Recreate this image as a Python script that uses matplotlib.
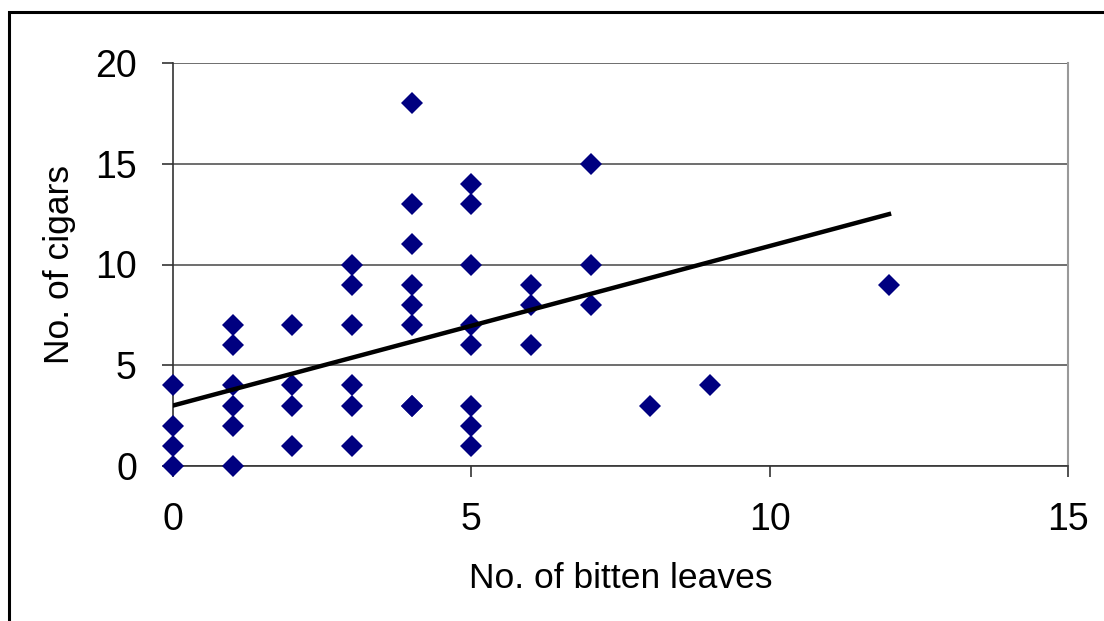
import matplotlib.pyplot as plt
from matplotlib.patches import Rectangle

plt.rcParams['font.family'] = ['Liberation Sans', 'DejaVu Sans']

# bitten leaves vs cigars
leaves = [0, 0, 0, 0,
          1, 1, 1, 1, 1, 1,
          2, 2, 2, 2,
          3, 3, 3, 3, 3, 3,
          4, 4, 4, 4, 4, 4, 4, 4,
          5, 5, 5, 5, 5, 5, 5, 5,
          6, 6, 6,
          7, 7, 7,
          8, 9, 12]
cigars = [0, 1, 2, 4,
          0, 2, 3, 4, 6, 7,
          1, 3, 4, 7,
          1, 3, 4, 7, 9, 10,
          3, 3, 7, 8, 9, 11, 13, 18,
          1, 2, 3, 6, 7, 10, 13, 14,
          6, 8, 9,
          8, 10, 15,
          3, 4, 9]

# trendline as drawn in the chart (ends)
trend_x = [0, 12]
trend_y = [3.0, 12.5]

xticks = [0, 5, 10, 15]
yticks = [0, 5, 10, 15, 20]

W, H = 1104, 621
fig = plt.figure(figsize=(W / 100, H / 100), dpi=100)
ax = fig.add_axes([173 / W, 1 - 466 / H, (1068 - 173) / W, (466 - 63) / H])

# outer chart-area frame
fig.patches.append(Rectangle((9 / W, -0.1), 1.2, 1 - 12 / H + 0.1,
                             transform=fig.transFigure, fill=False,
                             edgecolor='black', linewidth=2.2))

ax.set_xlim(0, 15)
ax.set_ylim(0, 20)
ax.set_xticks(xticks)
ax.set_yticks(yticks)
ax.grid(axis='y', color='#555555', linewidth=1.2)
ax.set_axisbelow(True)

ax.plot(leaves, cigars, linestyle='none', marker='D', markersize=11,
        color='#000080', markeredgewidth=0, clip_on=False, zorder=3)

ax.plot(trend_x, trend_y, color='black', linewidth=3.2, zorder=4)

ax.spines['top'].set_visible(False)
ax.spines['right'].set_color('#999999')
ax.spines['right'].set_linewidth(1.5)
ax.spines['left'].set_color('#333333')
ax.spines['bottom'].set_color('#333333')
ax.spines['left'].set_linewidth(1.2)
ax.spines['bottom'].set_linewidth(1.2)

ax.tick_params(direction='out', length=8, width=1.2, color='#333333',
               labelsize=27)
ax.tick_params(axis='x', pad=18)
ax.tick_params(axis='y', pad=18)
ax.set_xlabel('No. of bitten leaves', fontsize=25.5, labelpad=17)
ax.set_ylabel('No. of cigars', fontsize=25.5, labelpad=14)

fig.savefig('out.png', dpi=100)
